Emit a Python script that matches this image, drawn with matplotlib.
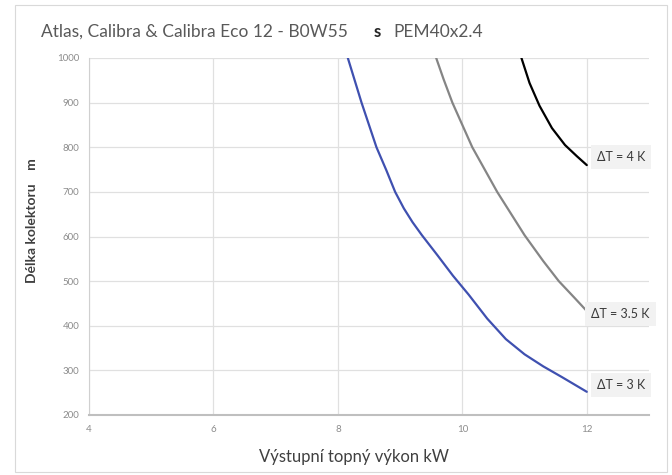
"""
Atlas / Calibra collector length chart: required collector length vs heating
output for three brine temperature differences (B0W55, PEM40x2.4).
"""
import matplotlib
matplotlib.use("Agg")
import matplotlib.pyplot as plt
from matplotlib.patches import Rectangle

plt.rcParams["font.family"] = ["Lato", "DejaVu Sans"]

dt3_kw = [8.16, 8.38, 8.62, 8.78, 8.92, 9.06, 9.2, 9.35, 9.6, 9.85, 10.1,
          10.4, 10.7, 11.0, 11.3, 11.6, 12.0]
dt3_len = [1000, 900, 800, 748, 700, 663, 632, 603, 558, 512, 470,
           416, 370, 336, 309, 285, 252]

dt35_kw = [9.58, 9.7, 9.84, 10.16, 10.56, 11.0, 11.3, 11.55, 11.8, 12.0]
dt35_len = [1000, 952, 900, 800, 700, 603, 545, 500, 463, 433]

dt4_kw = [10.95, 11.08, 11.24, 11.44, 11.65, 11.84, 12.0]
dt4_len = [1000, 944, 893, 843, 805, 780, 760]

x_ticks = [4, 6, 8, 10, 12]
y_ticks = [200, 300, 400, 500, 600, 700, 800, 900, 1000]

SERIES = [
    (dt3_kw, dt3_len, "#3f50b0", "ΔT = 3 K", (10, 7)),
    (dt35_kw, dt35_len, "#858585", "ΔT = 3.5 K", (4, -3)),
    (dt4_kw, dt4_len, "#000000", "ΔT = 4 K", (10, 8)),
]


def main():
    fig = plt.figure(figsize=(6.72, 4.75), dpi=100)
    # light frame around the whole chart, Excel style
    fig.patches.append(Rectangle((15 / 672, 3 / 475), 652 / 672, 467 / 475,
                                 transform=fig.transFigure, fill=False,
                                 edgecolor="#d9d9d9", linewidth=0.8))

    ax = fig.add_axes([89 / 672, 60 / 475, 560 / 672, 357 / 475])

    for xs, ys, color, label, off in SERIES:
        ax.plot(xs, ys, color=color, linewidth=1.6, solid_capstyle="round",
                solid_joinstyle="round")
        ax.annotate(label, (xs[-1], ys[-1]), xytext=off, textcoords="offset pixels",
                    ha="left", va="center", fontsize=9, color="#3a3a3a",
                    bbox=dict(boxstyle="square,pad=0.5", facecolor="#f2f2f2",
                              edgecolor="none"))

    ax.set_xlim(4, 13)
    ax.set_ylim(200, 1000)
    ax.set_xticks(x_ticks)
    ax.set_yticks(y_ticks)
    ax.tick_params(length=0, labelsize=7, labelcolor="#8c8c8c", pad=7)
    ax.grid(True, color="#e0e0e0", linewidth=0.9)
    ax.set_axisbelow(True)
    for side in ("top", "right"):
        ax.spines[side].set_visible(False)
    ax.spines["left"].set_color("#d0d0d0")
    ax.spines["bottom"].set_color("#bfbfbf")
    ax.spines["bottom"].set_linewidth(1.5)

    # title in three pieces (the stray bold "s" sits between them)
    fig.text(41 / 672, 1 - 32 / 475, "Atlas, Calibra & Calibra Eco 12 - B0W55",
             fontsize=12.5, color="#595959", va="center", ha="left")
    fig.text(377 / 672, 1 - 32 / 475, "s", fontsize=12, color="#262626",
             fontweight="bold", va="center", ha="center")
    fig.text(393 / 672, 1 - 32 / 475, "PEM40x2.4", fontsize=12.5,
             color="#595959", va="center", ha="left")

    fig.text(354 / 672, 1 - 457 / 475, "Výstupní topný výkon kW", fontsize=12,
             color="#404040", ha="center", va="center")
    fig.text(32 / 672, 1 - 221 / 475, "Délka kolektoru    m", fontsize=10,
             color="#404040", fontweight="bold", rotation=90,
             ha="center", va="center")

    fig.savefig("out.png", dpi=100)
    plt.close(fig)


if __name__ == "__main__":
    main()
